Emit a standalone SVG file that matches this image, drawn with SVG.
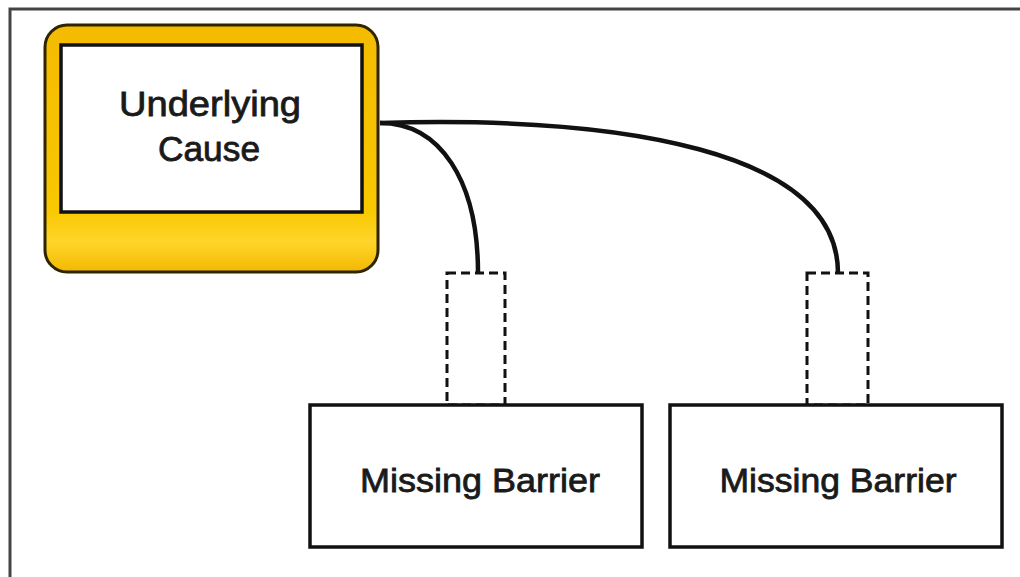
<svg xmlns="http://www.w3.org/2000/svg" width="1020" height="577" viewBox="0 0 1020 577">
<defs>
<linearGradient id="gold" x1="0" y1="0" x2="0" y2="1">
<stop offset="0" stop-color="#f4bb00"/>
<stop offset="0.75" stop-color="#f8c800"/>
<stop offset="0.88" stop-color="#ffd52a"/>
<stop offset="1" stop-color="#f2b800"/>
</linearGradient>
<style>
.lbl{font-family:"Liberation Sans",Arial,sans-serif;fill:#1a1a1a;stroke:#1a1a1a;stroke-width:0.8;text-anchor:middle}
.box{fill:#fff;stroke:#111;stroke-width:3.5}
.dash{fill:none;stroke:#111;stroke-width:3;stroke-dasharray:9 5}
.conn{fill:none;stroke:#111;stroke-width:4.5}
</style>
</defs>
<rect width="1020" height="577" fill="#fff"/>
<path d="M10,577 V9 H1020" fill="none" stroke="#444" stroke-width="3"/>
<g id="underlying-cause">
<rect x="45" y="25" width="333" height="247" rx="22" fill="url(#gold)" stroke="#2e2400" stroke-width="3"/>
<rect x="61" y="45" width="301" height="167" fill="#fff" stroke="#111" stroke-width="3.5"/>
<text class="lbl" x="210" y="116" font-size="35" textLength="182" lengthAdjust="spacingAndGlyphs">Underlying</text>
<text class="lbl" x="209" y="161" font-size="35" textLength="102" lengthAdjust="spacingAndGlyphs">Cause</text>
</g>
<g id="connectors">
<path class="conn" d="M380,123 C440,123 478,180 478,273"/>
<path class="conn" d="M380,123 C620,116 838,150 838,273"/>
<rect class="dash" x="447" y="273" width="58" height="132"/>
<rect class="dash" x="807" y="273" width="61" height="132"/>
</g>
<g id="missing-barrier-1">
<rect class="box" x="310" y="405" width="332" height="142"/>
<text class="lbl" x="480" y="492" font-size="34" textLength="240" lengthAdjust="spacingAndGlyphs">Missing Barrier</text>
</g>
<g id="missing-barrier-2">
<rect class="box" x="670" y="405" width="332" height="142"/>
<text class="lbl" x="838" y="492" font-size="34" textLength="237" lengthAdjust="spacingAndGlyphs">Missing Barrier</text>
</g>
</svg>
